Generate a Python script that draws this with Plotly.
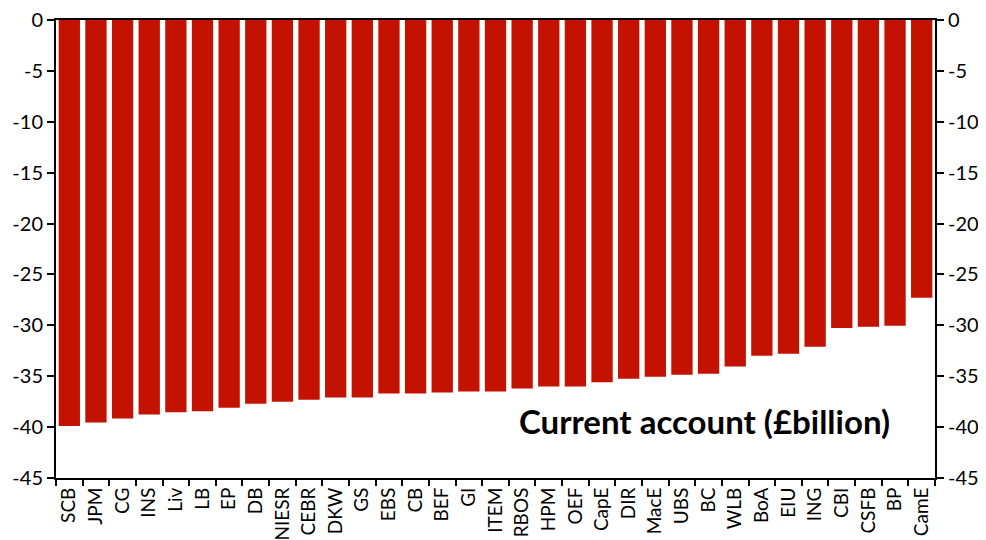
import plotly.graph_objects as go

categories = ["SCB", "JPM", "CG", "INS", "Liv", "LB", "EP", "DB", "NIESR", "CEBR", "DKW",
              "GS", "EBS", "CB", "BEF", "GI", "ITEM", "RBOS", "HPM", "OEF", "CapE", "DIR",
              "MacE", "UBS", "BC", "WLB", "BoA", "EIU", "ING", "CBI", "CSFB", "BP", "CamE"]
values = [-39.9, -39.55, -39.15, -38.75, -38.55, -38.45, -38.1, -37.7, -37.5, -37.3, -37.1,
          -37.1, -36.7, -36.7, -36.6, -36.5, -36.5, -36.2, -36.0, -36.0, -35.6, -35.25,
          -35.05, -34.85, -34.75, -34.05, -33.0, -32.8, -32.1, -30.25, -30.15, -30.05, -27.3]
tick_vals = [0, -5, -10, -15, -20, -25, -30, -35, -40, -45]
tick_text = ["0", "-5", "-10", "-15", "-20", "-25", "-30", "-35", "-40", "-45"]
title_text = "Current account (£billion)"

FONT = "Lato, 'Open Sans', sans-serif"

fig = go.Figure()
fig.add_trace(go.Bar(x=categories, y=values, marker_color="#C41200",
                     marker_line_width=0, showlegend=False))
# invisible copy to anchor the right-hand axis
fig.add_trace(go.Bar(x=categories, y=values, yaxis="y2", opacity=0,
                     hoverinfo="skip", showlegend=False))

yax = dict(range=[-45, 0], tickvals=tick_vals, ticktext=tick_text,
           ticks="outside", ticklen=7, tickwidth=1.5, tickcolor="black",
           showline=True, linecolor="black", linewidth=2, showgrid=False,
           zeroline=False, automargin=False, ticklabeloverflow="allow",
           tickfont=dict(family=FONT, size=20, color="black"))

fig.update_layout(
    width=978, height=532,
    margin=dict(l=48, r=51, t=12, b=62),
    paper_bgcolor="white", plot_bgcolor="white",
    bargap=0.2, barmode="overlay",
    font=dict(family=FONT, color="black"),
    xaxis=dict(tickangle=-90, ticks="outside", ticklen=6, tickwidth=1.5,
               tickcolor="black", tickson="boundaries", showline=True,
               linecolor="black", linewidth=2, showgrid=False, mirror=True,
               automargin=False, ticklabeloverflow="allow",
               tickfont=dict(family=FONT, size=19, color="black")),
    yaxis=yax,
    yaxis2=dict(**yax, overlaying="y", side="right"),
)
fig.add_annotation(text="<b>" + title_text + "</b>", xref="paper", yref="y",
                   x=0.951, y=-39.4, xanchor="right", yanchor="middle", showarrow=False,
                   font=dict(family=FONT, size=33, color="black"))

fig.write_html("out.html")
